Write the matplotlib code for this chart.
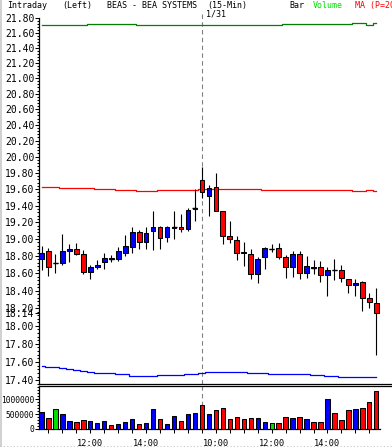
import numpy as np
import matplotlib
matplotlib.use("Agg")
import matplotlib.pyplot as plt
from matplotlib.ticker import FixedLocator, FuncFormatter, NullFormatter
from matplotlib.lines import Line2D

plt.rcParams["font.family"] = ["DejaVu Sans Mono"]

# 15-min bars: 1/30 10:15..15:45 (23 bars), 1/31 09:30..15:45 (26 bars)
opens = [18.76, 18.86, 18.72, 18.715, 18.855, 18.88, 18.82, 18.61, 18.675, 18.73,
         18.775, 18.76, 18.84, 18.90, 19.08, 18.96, 19.09, 19.14, 19.02, 19.135,
         19.14, 19.12, 19.36,
         19.71, 19.51, 19.62, 19.34, 19.03, 18.99, 18.85, 18.82, 18.59, 18.785,
         18.885, 18.89, 18.785, 18.675, 18.82, 18.60, 18.67, 18.67, 18.575, 18.64,
         18.635, 18.53, 18.465, 18.50, 18.31, 18.255]
highs = [18.92, 18.89, 18.82, 19.06, 18.94, 18.95, 18.87, 18.69, 18.75, 18.83,
         18.81, 18.90, 19.05, 19.14, 19.11, 19.14, 19.33, 19.15, 19.15, 19.33,
         19.30, 19.37, 19.60,
         19.87, 19.65, 19.80, 19.34, 19.21, 19.03, 18.97, 18.88, 18.79, 18.90,
         18.94, 18.95, 18.81, 18.855, 18.855, 18.80, 18.75, 18.74, 18.675, 18.77,
         18.70, 18.53, 18.53, 18.51, 18.37, 18.43]
lows = [18.64, 18.57, 18.60, 18.70, 18.73, 18.81, 18.59, 18.53, 18.645, 18.65,
        18.73, 18.745, 18.80, 18.84, 18.88, 18.88, 18.87, 18.88, 18.96, 19.00,
        19.08, 19.10, 19.21,
        19.49, 19.27, 19.33, 18.94, 18.95, 18.75, 18.68, 18.53, 18.49, 18.65,
        18.85, 18.77, 18.54, 18.56, 18.535, 18.54, 18.59, 18.50, 18.34, 18.52,
        18.50, 18.37, 18.34, 18.17, 18.205, 17.68]
closes = [18.83, 18.675, 18.72, 18.86, 18.88, 18.82, 18.61, 18.67, 18.70, 18.78,
          18.77, 18.86, 18.92, 19.08, 18.96, 19.07, 19.14, 19.01, 19.14, 19.14,
          19.12, 19.345, 19.365,
          19.57, 19.61, 19.34, 19.04, 19.00, 18.84, 18.84, 18.59, 18.76, 18.89,
          18.885, 18.79, 18.675, 18.82, 18.60, 18.68, 18.665, 18.575, 18.635, 18.635,
          18.54, 18.46, 18.49, 18.31, 18.27, 18.14]
volumes = [557000, 386000, 660000, 490000, 284000, 250000, 320000, 284000, 216000, 284000,
           148000, 180000, 250000, 350000, 180000, 216000, 690000, 350000, 180000, 450000,
           280000, 520000, 550000,
           800000, 520000, 650000, 720000, 350000, 420000, 350000, 380000, 380000, 250000,
           210000, 210000, 420000, 380000, 420000, 350000, 250000, 250000, 1020000, 550000,
           310000, 650000, 690000, 720000, 920000, 1280000]
upper_line = [21.708] * 7 + [21.721] * 7 + [21.708] * 21 + [21.717] * 10 + \
             [21.735, 21.735, 21.712, 21.731]
ma_line = [19.622] * 3 + [19.610] * 5 + [19.598] * 3 + [19.586] * 3 + [19.577] * 3 + \
          [19.588] * 6 + [19.598] * 9 + [19.589] * 13 + [19.577, 19.577, 19.589, 19.577]
lower_line = [17.556, 17.55, 17.54, 17.53, 17.52, 17.513, 17.50, 17.495] + [17.48] * 3 + \
             [17.463] * 2 + [17.447] * 4 + [17.458] * 4 + [17.469] * 2 + [17.483] + \
             [17.494] * 6 + [17.483] * 3 + [17.469] * 6 + [17.458] * 2 + [17.444] * 2 + \
             [17.433] * 6
time_ticks = [7, 15, 25, 33, 41]
time_labels = ["12:00", "14:00", "10:00", "12:00", "14:00"]
day_break = 23
last_price = 18.14

W, H = 392, 447
X0, DX = 41.5, 6.975  # pixel of bar 0 and bar spacing


def px_to_bar(x):
    return (x - X0) / DX


fig = plt.figure(figsize=(W / 100, H / 100), dpi=100)
L = 39.3
ax = fig.add_axes([L / W, (H - 384) / H, (W - L) / W, (384 - 18.2) / H])
axv = fig.add_axes([L / W, (H - 429) / H, (W - L) / W, (429 - 386) / H], sharex=ax)

o, h, l, c = map(np.asarray, (opens, highs, lows, closes))
idx = np.arange(len(o))
up = c > o
col = np.where(c > o, "#0000ff", np.where(c < o, "#ff0000", "#00e000"))

# price panel
ax.set_yscale("log")
ax.set_ylim(17.36, 21.80)
ax.set_xlim(px_to_bar(L), px_to_bar(W))
ax.vlines(idx, l, h, color="black", lw=0.8, zorder=3)
body_lo = np.minimum(o, c)
body_hi = np.maximum(o, c)
ax.bar(idx, body_hi - body_lo, bottom=body_lo, width=0.68,
       color=np.where(up, "#0000ff", "#ff0000"), edgecolor="black", lw=0.75, zorder=4)
flat = np.abs(c - o) < 0.006
ax.hlines(c[flat], idx[flat] - 0.36, idx[flat] + 0.36, color="black", lw=1.0, zorder=5)
ax.plot(idx, upper_line, color="#008000", lw=0.9, drawstyle="steps-mid", zorder=2)
ax.plot(idx, ma_line, color="#ff0000", lw=0.9, drawstyle="steps-mid", zorder=2)
ax.plot(idx, lower_line, color="#0000ff", lw=0.9, drawstyle="steps-mid", zorder=2)

yt = list(np.round(np.arange(17.4, 21.81, 0.2), 2)) + [last_price]
ax.yaxis.set_major_locator(FixedLocator(yt))
ax.yaxis.set_major_formatter(FuncFormatter(lambda v, _: f"{v:.2f}"))
ax.yaxis.set_minor_locator(FixedLocator(np.arange(17.36, 21.81, 0.04)))
ax.yaxis.set_minor_formatter(NullFormatter())
ax.tick_params(axis="y", which="major", length=3, width=0.75, labelsize=7, pad=0.6)
ax.tick_params(axis="y", which="minor", length=1.5, width=0.75)
ax.tick_params(axis="x", which="both", bottom=False, labelbottom=False)
for s in ("top", "right"):
    ax.spines[s].set_visible(False)
for s in ("left", "bottom"):
    ax.spines[s].set_linewidth(0.9)
ax.axvline(day_break, ymin=0, ymax=1 + (18.2 - 14) / (384 - 18.2), color="#808080",
           lw=0.8, ls=(0, (4, 3)), clip_on=False, zorder=1)

# volume panel
axv.bar(idx, volumes, width=0.62, color=col, edgecolor="black", lw=0.75, zorder=3)
axv.set_ylim(0, 1.45e6)
axv.yaxis.set_major_locator(FixedLocator([0, 500000, 1000000]))
axv.yaxis.set_major_formatter(FuncFormatter(lambda v, _: f"{int(v)}"))
axv.yaxis.set_minor_locator(FixedLocator(np.arange(0, 1.45e6, 100000)))
axv.yaxis.set_minor_formatter(NullFormatter())
axv.tick_params(axis="y", which="major", length=3, width=0.75, labelsize=5.7, pad=0.6)
axv.tick_params(axis="y", which="minor", length=1.5, width=0.75)
axv.xaxis.set_major_locator(FixedLocator(time_ticks))
axv.xaxis.set_major_formatter(FuncFormatter(lambda v, p: time_labels[p]))
axv.xaxis.set_minor_locator(FixedLocator(np.arange(1, len(o), 2)))
axv.tick_params(axis="x", which="both", length=3, width=0.75, labelsize=6.2, pad=4)
axv.spines["right"].set_visible(False)
for s in ("left", "bottom", "top"):
    axv.spines[s].set_linewidth(0.9)
axv.spines["bottom"].set_bounds(px_to_bar(L), px_to_bar(380))
axv.axvline(day_break, color="#808080", lw=0.8, ls=(0, (4, 3)), zorder=1)

# header
ty = 1 - 5.2 / H
fs = 6.0
fig.text(7 / W, ty, "Intraday", fontsize=fs, va="center")
fig.text(62 / W, ty, "(Left)", fontsize=fs, va="center")
fig.text(107 / W, ty, "BEAS - BEA SYSTEMS", fontsize=fs, va="center")
fig.text(207 / W, ty, "(15-Min)", fontsize=fs, va="center")
fig.text(206 / W, 1 - 14 / H, "1/31", fontsize=fs, va="center")
fig.text(289 / W, ty, "Bar", fontsize=fs, va="center")
fig.text(313 / W, ty, "Volume", fontsize=fs, va="center", color="#00e000")
fig.text(355 / W, ty, "MA (P=20)", fontsize=fs, va="center", color="#ff0000")

fig.add_artist(Line2D([0.8 / W] * 2, [0, 1], color="#c8c8c8", lw=1.2))
fig.add_artist(Line2D([0, 1], [1.5 / H] * 2, color="#c8c8c8", lw=0.8, ls=(0, (1, 2))))

fig.savefig("out.png", dpi=100)
